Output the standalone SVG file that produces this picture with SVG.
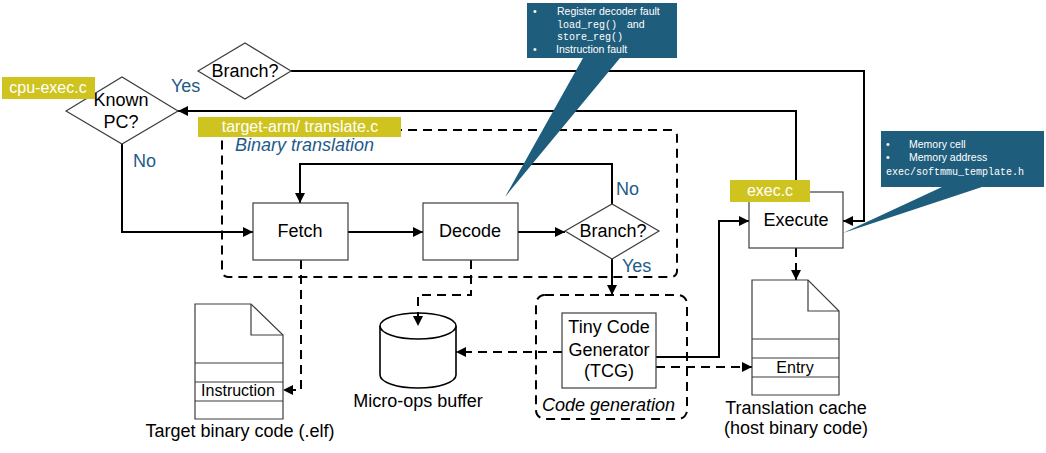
<svg xmlns="http://www.w3.org/2000/svg" width="1046" height="453" viewBox="0 0 1046 453">
  <style>
    .lbl { font-family: "Liberation Sans", Arial, sans-serif; font-size: 18px; fill: #000; }
    .sm { font-family: "Liberation Sans", Arial, sans-serif; font-size: 16px; fill: #000; }
    .blue { font-family: "Liberation Sans", Arial, sans-serif; font-size: 18px; fill: #1f5b87; }
    .tag { font-family: "Liberation Sans", Arial, sans-serif; font-size: 16px; fill: #fff; }
    .tip { font-family: "Liberation Sans", Arial, sans-serif; font-size: 10.5px; fill: #fff; }
    .mono { font-family: "Liberation Mono", "Courier New", monospace; font-size: 10px; fill: #fff; }
    .box { fill: #fff; stroke: #3c3c3c; stroke-width: 1.2; }
    .tagbg { fill: #cfc41f; }
    .callout { fill: #1f5d7d; }
    .solid { fill: none; stroke: #000; stroke-width: 2; }
    .dash { fill: none; stroke: #000; stroke-width: 2; stroke-dasharray: 9 6; }
    .group { fill: none; stroke: #000; stroke-width: 2; stroke-dasharray: 9 6; }
  </style>
  <defs>
    <marker id="arrow" viewBox="0 0 10 10" refX="10" refY="5" markerWidth="11" markerHeight="10" markerUnits="userSpaceOnUse" orient="auto">
      <path d="M0,0 L10,5 L0,10 Z" fill="#000"/>
    </marker>
  </defs>

  <rect width="1046" height="453" fill="#fff"/>

  <!-- group frames -->
  <g id="binary-translation">
    <rect class="group" x="222" y="130" width="455" height="147" rx="6"/>
    <text class="blue" x="235" y="151" font-style="italic">Binary translation</text>
  </g>
  <g id="code-generation">
    <rect class="group" x="536" y="295" width="151" height="124" rx="9"/>
    <text class="lbl" x="542" y="411" font-style="italic">Code generation</text>
  </g>

  <!-- micro-ops buffer (drawn before the connectors so the arrow sits on its lid) -->
  <g id="micro-ops">
    <path d="M380,326 V375 A38,13 0 0 0 456,375 V326" fill="#fff" stroke="#000" stroke-width="1.6"/>
    <ellipse cx="418" cy="326" rx="38" ry="13" fill="#fff" stroke="#000" stroke-width="1.6"/>
    <text class="lbl" x="418" y="407" text-anchor="middle">Micro-ops buffer</text>
  </g>

  <!-- connectors -->
  <g id="connectors">
    <path class="solid" d="M291,71 H864 V221 H843" marker-end="url(#arrow)"/>
    <path class="solid" d="M796,192 V111 H178" marker-end="url(#arrow)"/>
    <path class="solid" d="M122,144 V232 H253" marker-end="url(#arrow)"/>
    <path class="solid" d="M348,232 H423" marker-end="url(#arrow)"/>
    <path class="solid" d="M518,232 H565" marker-end="url(#arrow)"/>
    <path class="solid" d="M612,204 V164 H300 V203" marker-end="url(#arrow)"/>
    <path class="solid" d="M612,259 V295" marker-end="url(#arrow)"/>
    <path class="solid" d="M656,357 H719 V221 H749" marker-end="url(#arrow)"/>
    <path class="dash" d="M656,367 H752" marker-end="url(#arrow)"/>
    <path class="dash" d="M562,352 H456" marker-end="url(#arrow)"/>
    <path class="dash" d="M301,260 V390 H283" marker-end="url(#arrow)"/>
    <path class="dash" d="M471,260 V295 H418 V326" marker-end="url(#arrow)"/>
    <path class="dash" d="M796,248 V280" marker-end="url(#arrow)"/>
    <text class="blue" x="171" y="92">Yes</text>
    <text class="blue" x="133" y="167">No</text>
    <text class="blue" x="616" y="195">No</text>
    <text class="blue" x="622" y="272">Yes</text>
  </g>

  <!-- decision nodes -->
  <g id="known-pc">
    <polygon class="box" points="66,111 122,77 178,111 122,144"/>
    <text class="lbl" x="121" y="106" text-anchor="middle">Known</text>
    <text class="lbl" x="121" y="128" text-anchor="middle">PC?</text>
  </g>
  <g id="branch-top">
    <polygon class="box" points="198,71 245,43 291,71 245,99"/>
    <text class="lbl" x="245" y="77" text-anchor="middle">Branch?</text>
  </g>
  <g id="branch-mid">
    <polygon class="box" points="565,231 612,204 659,231 612,259"/>
    <text class="lbl" x="613" y="237" text-anchor="middle">Branch?</text>
  </g>

  <!-- process nodes -->
  <g id="fetch">
    <rect class="box" x="253" y="203" width="95" height="57"/>
    <text class="lbl" x="300" y="237" text-anchor="middle">Fetch</text>
  </g>
  <g id="decode">
    <rect class="box" x="423" y="203" width="95" height="57"/>
    <text class="lbl" x="470" y="237" text-anchor="middle">Decode</text>
  </g>
  <g id="tcg">
    <rect class="box" x="562" y="313" width="94" height="75"/>
    <text class="lbl" x="609" y="333" text-anchor="middle">Tiny Code</text>
    <text class="lbl" x="609" y="356" text-anchor="middle">Generator</text>
    <text class="lbl" x="609" y="377" text-anchor="middle">(TCG)</text>
  </g>
  <g id="execute">
    <rect class="box" x="749" y="192" width="94" height="56"/>
    <text class="lbl" x="796" y="226" text-anchor="middle">Execute</text>
  </g>

  <!-- documents -->
  <g id="target-binary">
    <path class="box" d="M195,304 H251 L283,335 V419 H195 Z"/>
    <path d="M251,304 V335 H283" fill="none" stroke="#3c3c3c" stroke-width="1.2"/>
    <path d="M195,363 H283 M195,382 H283 M195,401 H283" stroke="#3c3c3c" stroke-width="1.2"/>
    <text class="sm" x="238" y="396" text-anchor="middle">Instruction</text>
    <text class="lbl" x="240" y="437" text-anchor="middle">Target binary code (.elf)</text>
  </g>
  <g id="translation-cache">
    <path class="box" d="M752,280 H808 L839,311 V395 H752 Z"/>
    <path d="M808,280 V311 H839" fill="none" stroke="#3c3c3c" stroke-width="1.2"/>
    <path d="M752,339 H839 M752,358 H839 M752,377 H839" stroke="#3c3c3c" stroke-width="1.2"/>
    <text class="sm" x="795" y="373" text-anchor="middle">Entry</text>
    <text class="lbl" x="796" y="414" text-anchor="middle">Translation cache</text>
    <text class="lbl" x="796" y="434" text-anchor="middle">(host binary code)</text>
  </g>

  <!-- source file tags -->
  <g id="tag-cpu-exec">
    <rect class="tagbg" x="2" y="77" width="93" height="22"/>
    <text class="tag" x="48" y="93" text-anchor="middle">cpu-exec.c</text>
  </g>
  <g id="tag-translate">
    <rect class="tagbg" x="198" y="117" width="203" height="20"/>
    <text class="tag" x="300" y="132" text-anchor="middle">target-arm/ translate.c</text>
  </g>
  <g id="tag-exec">
    <rect class="tagbg" x="730" y="180" width="80" height="22"/>
    <text class="tag" x="770" y="196" text-anchor="middle">exec.c</text>
  </g>

  <!-- fault callouts -->
  <g id="callout-decode">
    <path class="callout" d="M527,3 H677 V58 H620 L505,197 L583,58 H527 Z"/>
    <text class="tip" x="533" y="15">•</text>
    <text class="tip" x="557" y="15">Register decoder fault</text>
    <text class="mono" x="557" y="28">load_reg()</text>
    <text class="tip" x="627" y="28">and</text>
    <text class="mono" x="557" y="40">store_reg()</text>
    <text class="tip" x="533" y="53">•</text>
    <text class="tip" x="556" y="53">Instruction fault</text>
  </g>
  <g id="callout-execute">
    <path class="callout" d="M881,131 H1044 V187 H982 L843,233 L942,187 H881 Z"/>
    <text class="tip" x="886" y="148">•</text>
    <text class="tip" x="909" y="148">Memory cell</text>
    <text class="tip" x="886" y="161">•</text>
    <text class="tip" x="909" y="161">Memory address</text>
    <text class="mono" x="886" y="175" font-size="10.5">exec/softmmu_template.h</text>
  </g>
</svg>
